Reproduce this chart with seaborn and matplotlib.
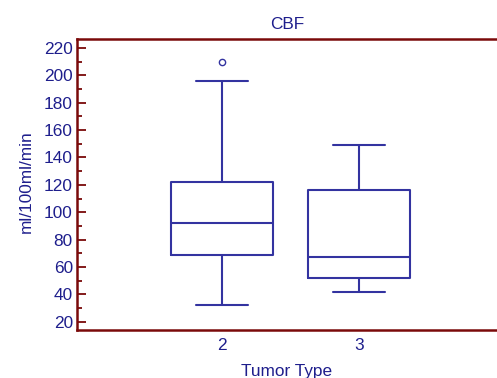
import matplotlib
matplotlib.use("Agg")
import matplotlib.pyplot as plt
import seaborn as sns
import pandas as pd
from matplotlib.ticker import MultipleLocator

# Values (chosen to reproduce the quartiles/whiskers)
type2_values = [32, 50, 69, 80, 92, 110, 122, 196, 210]
type3_values = [42, 52, 67, 116, 149]
categories = ["2", "3"]
y_ticks = [20, 40, 60, 80, 100, 120, 140, 160, 180, 200, 220]

df = pd.DataFrame({
    "Tumor Type": ["2"] * len(type2_values) + ["3"] * len(type3_values),
    "CBF": type2_values + type3_values,
})

sns.set_style("white")
plt.rcParams["font.family"] = ["Liberation Sans", "DejaVu Sans"]

navy = "#3333A0"
text_navy = "#1E1E8C"
darkred = "#7A0A0A"
fs = 12.4

fig = plt.figure(figsize=(4.97, 3.78), dpi=100)
ax = fig.add_axes([77 / 497, 1 - 330 / 378, 1 - 77 / 497, (330 - 39) / 378])

sns.boxplot(
    data=df, x="Tumor Type", y="CBF", order=categories, ax=ax,
    width=0.745, color=navy, linewidth=1.5,
    fill=False, whis=1.5,
    flierprops=dict(marker="o", markersize=4.5, markeredgecolor=navy,
                    markerfacecolor="white", markeredgewidth=1.0),
)

ax.set_xlim(-1.058, 2.007)
ax.set_ylim(13.9, 226.6)
ax.set_yticks(y_ticks)
ax.yaxis.set_minor_locator(MultipleLocator(10))

for side in ["left", "top", "bottom"]:
    ax.spines[side].set_color(darkred)
    ax.spines[side].set_linewidth(1.8)
    ax.spines[side].set_visible(True)
ax.spines["right"].set_visible(False)

ax.tick_params(axis="y", which="major", direction="in", length=6.5, width=1.3,
               color=darkred, labelcolor=text_navy, labelsize=fs, pad=3, left=True)
ax.tick_params(axis="y", which="minor", direction="in", length=3.3, width=1.3,
               color=darkred, left=True)
ax.tick_params(axis="x", which="both", length=0, labelcolor=text_navy,
               labelsize=fs, pad=6)

ax.set_title("CBF", color=text_navy, fontsize=fs, pad=7)
ax.set_xlabel("Tumor Type", color=text_navy, fontsize=fs, labelpad=8)
ax.set_ylabel("ml/100ml/min", color=text_navy, fontsize=fs)
ax.yaxis.set_label_coords((34 - 77) / 420, (330 - 182) / 291)

fig.savefig("out.png", dpi=100)
